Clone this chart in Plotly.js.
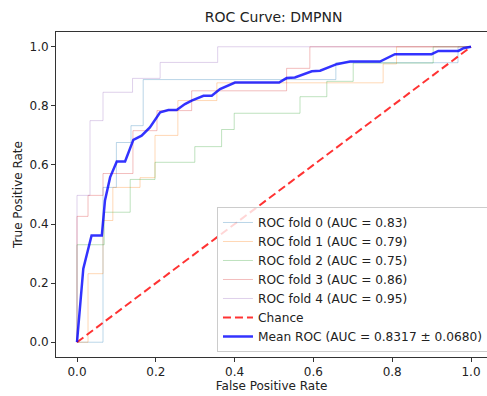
<!DOCTYPE html>
<html>
<head>
<meta charset="utf-8">
<script src="https://cdn.plot.ly/plotly-3.0.1.min.js"></script>
<style>html,body{margin:0;padding:0;background:#fff;}#chart{width:487px;height:396px;}</style>
</head>
<body>
<div id="chart"></div>
<script>
// ---- data ----
const fold0_fpr = [0, 0.066, 0.100, 0.137, 0.168, 0.657, 0.967, 1.0];
const fold0_tpr = [0, 0.524, 0.676, 0.733, 0.889, 0.946, 1.0, 1.0];
const fold1_fpr = [0, 0.028, 0.066, 0.091, 0.160, 0.198, 0.256, 0.355, 0.777, 0.811, 1.0];
const fold1_tpr = [0, 0.232, 0.412, 0.524, 0.557, 0.700, 0.818, 0.878, 0.942, 1.0, 1.0];
const fold2_fpr = [0, 0, 0.069, 0.135, 0.198, 0.299, 0.367, 0.399, 0.566, 0.634, 0.701, 0.904, 1.0];
const fold2_tpr = [0, 0.330, 0.440, 0.551, 0.609, 0.662, 0.720, 0.775, 0.831, 0.883, 0.945, 1.0, 1.0];
const fold3_fpr = [0, 0, 0.028, 0.066, 0.142, 0.203, 0.291, 0.532, 0.591, 1.0];
const fold3_tpr = [0, 0.426, 0.497, 0.571, 0.716, 0.784, 0.851, 0.927, 1.0, 1.0];
const fold4_fpr = [0, 0, 0.033, 0.066, 0.141, 0.211, 0.357, 1.0];
const fold4_tpr = [0, 0.497, 0.750, 0.846, 0.893, 0.947, 1.0, 1.0];
const mean_fpr = [0, 0.016, 0.037, 0.063, 0.071, 0.084, 0.101, 0.122, 0.143, 0.164, 0.185, 0.211, 0.232, 0.253, 0.274, 0.291, 0.321, 0.342, 0.363, 0.401, 0.513, 0.532, 0.553, 0.596, 0.617, 0.659, 0.693, 0.769, 0.807, 0.900, 0.917, 0.968, 0.981, 1.0];
const mean_tpr = [0, 0.249, 0.361, 0.361, 0.480, 0.558, 0.612, 0.612, 0.685, 0.699, 0.727, 0.778, 0.786, 0.786, 0.806, 0.818, 0.834, 0.834, 0.857, 0.879, 0.879, 0.894, 0.896, 0.917, 0.919, 0.941, 0.950, 0.950, 0.975, 0.975, 0.986, 0.986, 0.995, 1.0];
const chance_x = [0, 1];
const chance_y = [0, 1];
const fold_labels = ["ROC fold 0 (AUC = 0.83)", "ROC fold 1 (AUC = 0.79)", "ROC fold 2 (AUC = 0.75)", "ROC fold 3 (AUC = 0.86)", "ROC fold 4 (AUC = 0.95)"];
const chance_label = "Chance";
const mean_label = "Mean ROC (AUC = 0.8317 \u00b1 0.0680)";
const tick_vals = [0, 0.2, 0.4, 0.6, 0.8, 1.0];
const tick_text = ["0.0", "0.2", "0.4", "0.6", "0.8", "1.0"];

const foldColors = ["rgba(31,119,180,0.3)", "rgba(255,127,14,0.3)", "rgba(44,160,44,0.3)", "rgba(214,39,40,0.3)", "rgba(148,103,189,0.3)"];
const foldX = [fold0_fpr, fold1_fpr, fold2_fpr, fold3_fpr, fold4_fpr];
const foldY = [fold0_tpr, fold1_tpr, fold2_tpr, fold3_tpr, fold4_tpr];

const traces = [];
for (let i = 0; i < 5; i++) {
  traces.push({x: foldX[i], y: foldY[i], mode: "lines", name: fold_labels[i],
    line: {color: foldColors[i], width: 1, shape: "hv"}});
}
traces.push({x: chance_x, y: chance_y, mode: "lines", name: chance_label,
  line: {color: "rgba(255,0,0,0.8)", width: 2, dash: "8px,4px"}});
traces.push({x: mean_fpr, y: mean_tpr, mode: "lines", name: mean_label,
  line: {color: "rgba(0,0,255,0.8)", width: 2.5}});

const font = {family: "DejaVu Sans", size: 12, color: "#222"};
const legendFont = {family: "DejaVu Sans", size: 12.2, color: "#222"};
const layout = {
  width: 487, height: 396,
  margin: {l: 56, r: 0, t: 32, b: 39, pad: 0, autoexpand: false},
  paper_bgcolor: "#fff", plot_bgcolor: "#fff",
  font: font,
  showlegend: true,
  title: {text: "ROC Curve: DMPNN", font: {family: "DejaVu Sans", size: 14, color: "#222"},
    xref: "paper", x: 0.505, xanchor: "center", yref: "container", y: 1 - 17/396, yanchor: "middle"},
  xaxis: {range: [-0.0533, 1.0406], tickvals: tick_vals, ticktext: tick_text,
    showgrid: false, zeroline: false, showline: true, linecolor: "#333", linewidth: 1, mirror: true,
    ticks: "outside", ticklen: 4, tickcolor: "#333", tickfont: font,
    title: {text: "False Positive Rate", font: font, standoff: 0}},
  yaxis: {range: [-0.05, 1.05], tickvals: tick_vals, ticktext: tick_text,
    showgrid: false, zeroline: false, showline: true, linecolor: "#333", linewidth: 1,
    ticks: "outside", ticklen: 4, tickcolor: "#333", tickfont: font,
    title: {text: "True Positive Rate", font: font, standoff: 4}},
  legend: {x: 0.3735, xanchor: "left", y: 0.0154, yanchor: "bottom",
    bgcolor: "rgba(255,255,255,0.8)", bordercolor: "#ccc", borderwidth: 1,
    font: legendFont, tracegroupgap: 0}
};
Plotly.newPlot("chart", traces, layout, {displayModeBar: false, staticPlot: true});
</script>
</body>
</html>
